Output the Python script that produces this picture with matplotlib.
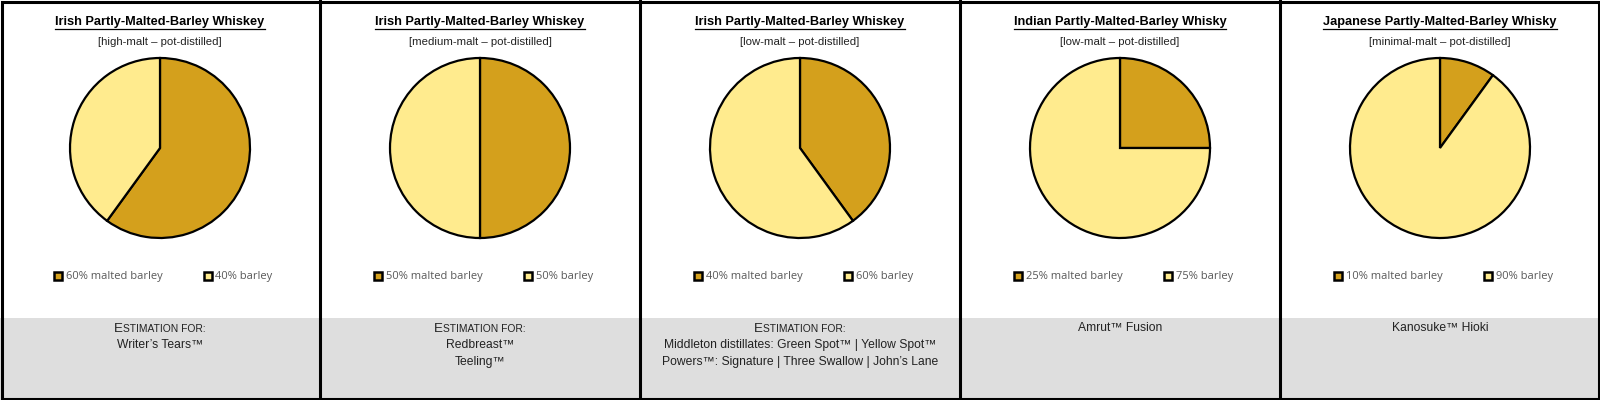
import matplotlib
matplotlib.use("Agg")
import matplotlib.pyplot as plt
from matplotlib.patches import Rectangle
from matplotlib.lines import Line2D

# Datos de cada panel
titulos = [
    "Irish Partly-Malted-Barley Whiskey",
    "Irish Partly-Malted-Barley Whiskey",
    "Irish Partly-Malted-Barley Whiskey",
    "Indian Partly-Malted-Barley Whisky",
    "Japanese Partly-Malted-Barley Whisky",
]
subtitulos = [
    "[high-malt \u2013 pot-distilled]",
    "[medium-malt \u2013 pot-distilled]",
    "[low-malt \u2013 pot-distilled]",
    "[low-malt \u2013 pot-distilled]",
    "[minimal-malt \u2013 pot-distilled]",
]
malta = [60, 50, 40, 25, 10]
cebada = [40, 50, 60, 75, 90]
etiqueta_malta = "% malted barley"
etiqueta_cebada = "% barley"
con_estimacion = [True, True, True, False, False]
marcas = [
    ["Writer\u2019s Tears\u2122"],
    ["Redbreast\u2122", "Teeling\u2122"],
    ["Middleton distillates: Green Spot\u2122 | Yellow Spot\u2122",
     "Powers\u2122: Signature | Three Swallow | John\u2019s Lane"],
    ["Amrut\u2122 Fusion"],
    ["Kanosuke\u2122 Hioki"],
]

color_malta = "#D4A01C"
color_cebada = "#FFEB8E"
gris = "#DEDEDE"
fuente = ["Liberation Sans", "DejaVu Sans"]
fuente_leyenda = ["Open Sans", "DejaVu Sans"]

W, H = 1600, 400
fig = plt.figure(figsize=(16, 4), dpi=100)
fig.patch.set_facecolor("white")

def fx(px):
    return px / W

def fy(py):
    return 1 - py / H

# banda gris inferior
fig.patches.append(Rectangle((0, 0), 1, fy(318), transform=fig.transFigure,
                             facecolor=gris, edgecolor="none", zorder=0))

renderer = fig.canvas.get_renderer()
ancho_panel = 320
radio = 90

for i in range(5):
    x0 = i * ancho_panel
    cx = x0 + ancho_panel / 2

    # titulo subrayado
    t = fig.text(fx(cx), fy(22), titulos[i], ha="center", va="center",
                 fontsize=9.2, fontweight="bold", family=fuente, color="black")
    bb = t.get_window_extent(renderer)
    y_line = bb.y0 - 0.5
    fig.add_artist(Line2D([bb.x0 / W, bb.x1 / W], [y_line / H, y_line / H],
                          transform=fig.transFigure, color="black", lw=0.9))
    fig.text(fx(cx), fy(42), subtitulos[i], ha="center", va="center",
             fontsize=8.2, family=fuente, color="#222222")

    # pastel
    ax = fig.add_axes([fx(cx - radio), fy(148 + radio), 2 * radio / W, 2 * radio / H])
    ax.pie([malta[i], cebada[i]], colors=[color_malta, color_cebada],
           startangle=90, counterclock=False,
           wedgeprops=dict(edgecolor="black", linewidth=1.6))
    ax.set_xlim(-1, 1)
    ax.set_ylim(-1, 1)
    ax.set_aspect("equal")
    ax.axis("off")
    for w in ax.patches:
        w.set_clip_on(False)

    # leyenda
    entradas = [(str(malta[i]) + etiqueta_malta, color_malta, 58),
                (str(cebada[i]) + etiqueta_cebada, color_cebada, 208)]
    for texto, col, mx in entradas:
        fig.patches.append(Rectangle((fx(x0 + mx - 4), fy(276 + 4)), fx(8), 8 / H,
                                     transform=fig.transFigure, facecolor=col,
                                     edgecolor="black", linewidth=1.8, zorder=3))
        fig.text(fx(x0 + mx + 7.5), fy(276), texto, ha="left", va="center",
                 fontsize=8, family=fuente_leyenda, color="#595959")

    # texto de la banda gris
    y = 328
    if con_estimacion[i]:
        a = fig.text(0, 0, "E", fontsize=9.6, family=fuente)
        b = fig.text(0, 0, "STIMATION FOR:", fontsize=7.4, family=fuente)
        wa = a.get_window_extent(renderer).width
        wb = b.get_window_extent(renderer).width
        izq = cx - (wa + wb) / 2
        a.set_position((fx(izq), fy(y + 4.5)))
        b.set_position((fx(izq + wa), fy(y + 4.5)))
        a.set_color("#222222")
        b.set_color("#222222")
        y += 17
    for linea in marcas[i]:
        fig.text(fx(cx), fy(y), linea, ha="center", va="center",
                 fontsize=8.7, family=fuente, color="#222222")
        y += 17

# bordes
fig.patches.append(Rectangle((fx(1.5), 1.5 / H), fx(W - 3), (H - 3) / H,
                             transform=fig.transFigure, facecolor="none",
                             edgecolor="black", linewidth=2.2, zorder=5))
for i in range(1, 5):
    fig.add_artist(Line2D([fx(i * ancho_panel)] * 2, [0, 1], transform=fig.transFigure,
                          color="black", lw=2.2, zorder=5))

fig.savefig("out.png", dpi=100)
